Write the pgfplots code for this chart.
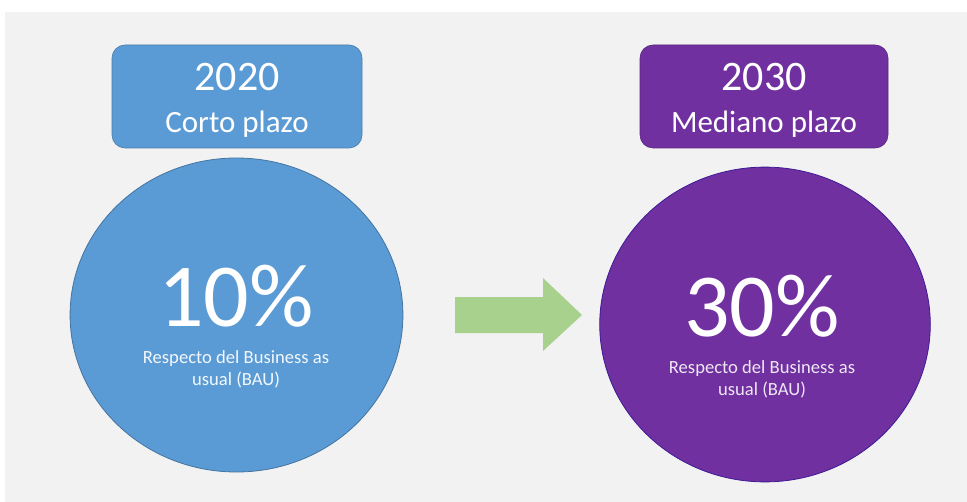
\documentclass[border=0pt]{standalone}
\usepackage{pgfplots}
\pgfplotsset{compat=1.18}
\usepackage{fontspec}
\setmainfont{Carlito}

\definecolor{bgray}{HTML}{F2F2F2}
\definecolor{cblue}{HTML}{5B9BD5}
\definecolor{cpurple}{HTML}{7030A0}
\definecolor{cgreen}{HTML}{A9D18E}

\begin{document}
\begin{tikzpicture}
\begin{axis}[
  width=483.5pt, height=251pt, scale only axis,
  xmin=0, xmax=967, ymin=0, ymax=502, y dir=reverse,
  hide axis, clip=false,
]
% background
\addplot[fill=white, draw=none] coordinates {(0,0) (967,0) (967,502) (0,502)} -- cycle;
\addplot[fill=bgray, draw=none] coordinates {(5,12) (967,12) (967,502) (5,502)} -- cycle;

% header boxes
\addplot[fill=cblue, draw=cblue!80!black, line width=0.3pt, rounded corners=6.5pt]
  coordinates {(237,45) (362,45) (362,148) (112,148) (112,45)} -- cycle;
\addplot[fill=cpurple, draw=cpurple!80!black, line width=0.3pt, rounded corners=6.5pt]
  coordinates {(764,45) (888,45) (888,148) (640,148) (640,45)} -- cycle;

% circles
\addplot[only marks, mark=*, mark size=78.5pt,
  mark options={fill=cblue, draw=cblue!75!black, line width=0.4pt, xscale=1.06}]
  coordinates {(236.5,315)};
\addplot[only marks, mark=*, mark size=78.7pt,
  mark options={fill=cpurple, draw=cpurple!70!blue!80!black, line width=0.4pt, xscale=1.05}]
  coordinates {(765,324.5)};

% arrow
\addplot[fill=cgreen, draw=none]
  coordinates {(455,297) (543,297) (543,278) (582,315) (543,351) (543,333) (455,333)} -- cycle;

\coordinate (y1) at (axis cs:237,77);
\coordinate (p1) at (axis cs:237,124);
\coordinate (y2) at (axis cs:764,77);
\coordinate (p2) at (axis cs:764,124);
\coordinate (v1) at (axis cs:236,296);
\coordinate (v2) at (axis cs:762,306);
\coordinate (s1) at (axis cs:236,369);
\coordinate (s2) at (axis cs:762,379);
\end{axis}

% texts on top of the plots
\node[text=white, font=\fontsize{21}{21}\selectfont] at (y1) {2020};
\node[text=white, font=\fontsize{15.5}{15.5}\selectfont] at (p1) {Corto plazo};
\node[text=white, font=\fontsize{21}{21}\selectfont] at (y2) {2030};
\node[text=white, font=\fontsize{15.5}{15.5}\selectfont] at (p2) {Mediano plazo};
\node[text=white, font=\fontsize{45}{45}\selectfont] at (v1) {10\%};
\node[text=white, font=\fontsize{45}{45}\selectfont] at (v2) {30\%};
\node[text=white!92!cblue, align=center, font=\fontsize{9.3}{11}\selectfont] at (s1)
  {Respecto del Business as\\usual (BAU)};
\node[text=white!88!cpurple, align=center, font=\fontsize{9.3}{11}\selectfont] at (s2)
  {Respecto del Business as\\usual (BAU)};
\end{tikzpicture}
\end{document}
